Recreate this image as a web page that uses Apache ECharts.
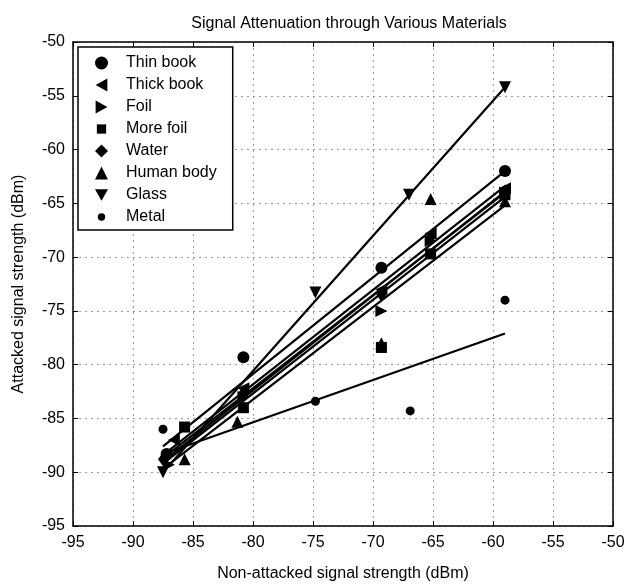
<!DOCTYPE html>
<html>
<head>
<meta charset="utf-8">
<script src="https://cdn.jsdelivr.net/npm/echarts@6/dist/echarts.min.js"></script>
<style>html,body{margin:0;padding:0;background:#fff}#c{width:632px;height:587px}</style>
</head>
<body>
<div id="c"></div>
<script>
// ---- data ----
const materials = ['Thin book', 'Thick book', 'Foil', 'More foil', 'Water', 'Human body', 'Glass', 'Metal'];

const thinBook  = [[-87.2,-88.3],[-80.8,-79.3],[-69.3,-71.0],[-59,-62.0]];
const thickBook = [[-86.6,-87.0],[-80.8,-82.2],[-69.3,-73.0],[-65.2,-67.8],[-59,-63.6]];
const foil      = [[-87.0,-89.3],[-80.8,-83.0],[-69.3,-75.0],[-65.2,-68.5],[-59,-64.0]];
const moreFoil  = [[-85.7,-85.8],[-80.8,-84.0],[-69.3,-78.4],[-65.2,-69.7],[-59,-64.2]];
const water     = [[-87.5,-88.8],[-80.8,-82.6],[-69.3,-73.5],[-65.2,-68.2],[-59,-63.9]];
const humanBody = [[-85.7,-88.8],[-81.3,-85.3],[-69.3,-78.0],[-65.2,-64.6],[-59,-64.8]];
const glass     = [[-87.5,-90.0],[-74.8,-73.3],[-67.0,-64.2],[-59,-54.2]];
const metal     = [[-87.5,-86.0],[-74.8,-83.4],[-66.9,-84.3],[-59,-74.0]];

// fitted lines (endpoints)
const thinBookFit  = [[-87.5,-87.6],[-59,-62.0]];
const thickBookFit = [[-87.5,-88.4],[-59,-63.4]];
const foilFit      = [[-87.5,-89.0],[-59,-63.9]];
const moreFoilFit  = [[-87.5,-89.2],[-59,-64.4]];
const waterFit     = [[-87.5,-88.7],[-59,-64.0]];
const humanBodyFit = [[-87.5,-89.7],[-59,-65.2]];
const glassFit     = [[-87.5,-90.0],[-59,-54.2]];
const metalFit     = [[-87.5,-88.3],[-59,-77.1]];

const xTicks = [-95,-90,-85,-80,-75,-70,-65,-60,-55,-50];
const yTicks = [-95,-90,-85,-80,-75,-70,-65,-60,-55,-50];

// ---- styling ----
const FONT = 'Liberation Sans';
const symbols = {
  'Thin book': 'circle',
  'Thick book': 'path://M0,5 L9,0 L9,10 Z',
  'Foil': 'path://M9,5 L0,0 L0,10 Z',
  'More foil': 'rect',
  'Water': 'diamond',
  'Human body': 'triangle',
  'Glass': 'path://M0,0 L10,0 L5,9 Z',
  'Metal': 'circle'
};
const legendIcons = Object.assign({}, symbols, {
  'More foil': 'path://M0,0 M14,14 M2,2 L12,2 L12,12 L2,12 Z',
  'Metal': 'path://M0,0 M14,14 M7,3 A4,4 0 1 1 7,11 A4,4 0 1 1 7,3 Z'
});
const sizes = {
  'Thin book': 12, 'Thick book': 12, 'Foil': 12, 'More foil': 11,
  'Water': [10,14], 'Human body': 12, 'Glass': 12, 'Metal': 9
};
const pts = [thinBook, thickBook, foil, moreFoil, water, humanBody, glass, metal];
const fits = [thinBookFit, thickBookFit, foilFit, moreFoilFit, waterFit, humanBodyFit, glassFit, metalFit];

const series = [];
materials.forEach((m, i) => {
  series.push({
    name: m + ' fit', type: 'line', data: fits[i], xAxisIndex: 0, yAxisIndex: 0,
    showSymbol: false, symbol: 'none', silent: true,
    lineStyle: { color: '#000', width: 2.2 }, z: 2
  });
});
materials.forEach((m, i) => {
  series.push({
    name: m, type: 'scatter', data: pts[i], xAxisIndex: 0, yAxisIndex: 0,
    symbol: symbols[m], symbolSize: sizes[m],
    itemStyle: { color: '#000', opacity: 1 }, z: 3
  });
});

const axisCommon = {
  min: -95, max: -50, interval: 5,
  axisLine: { show: true, onZero: false, lineStyle: { color: '#000', width: 1.5 } },
  axisTick: { show: true, inside: true, length: 5, lineStyle: { color: '#000', width: 1 } }
};

const chart = echarts.init(document.getElementById('c'), null, { renderer: 'canvas' });
chart.setOption({
  animation: false,
  backgroundColor: '#fff',
  title: {
    text: 'Signal Attenuation through Various Materials',
    left: 344, top: 11, textAlign: 'center',
    textStyle: { fontFamily: FONT, fontSize: 16, fontWeight: 'normal', color: '#000' }
  },
  grid: { left: 73, right: 19, top: 42, bottom: 54 },
  legend: {
    orient: 'vertical', left: 78, top: 47,
    data: materials.map(m => ({ name: m, icon: legendIcons[m] })),
    itemWidth: 13, itemHeight: 13, itemGap: 6,
    padding: [8, 16, 5, 17],
    borderColor: '#000', borderWidth: 1.5, backgroundColor: '#fff',
    textStyle: { fontFamily: FONT, fontSize: 16, color: '#000', padding: [0, 0, 0, 13] },
    itemStyle: { color: '#000', opacity: 1 },
    selectedMode: false
  },
  xAxis: [
    Object.assign({}, axisCommon, {
      type: 'value', position: 'bottom',
      name: 'Non-attacked signal strength (dBm)', nameLocation: 'middle', nameGap: 40,
      nameTextStyle: { fontFamily: FONT, fontSize: 16, color: '#000' },
      axisLabel: { fontFamily: FONT, fontSize: 16, color: '#000', margin: 9,
        formatter: v => xTicks.includes(v) ? String(v) : '' },
      splitLine: { show: true, lineStyle: { color: '#9a9a9a', type: [2, 4], width: 1 } }
    }),
    Object.assign({}, axisCommon, {
      type: 'value', position: 'top',
      axisLabel: { show: false }, splitLine: { show: false }
    })
  ],
  yAxis: [
    Object.assign({}, axisCommon, {
      type: 'value', position: 'left',
      name: 'Attacked signal strength (dBm)', nameLocation: 'middle', nameGap: 46,
      nameTextStyle: { fontFamily: FONT, fontSize: 16, color: '#000' },
      axisLabel: { fontFamily: FONT, fontSize: 16, color: '#000', margin: 8,
        formatter: v => yTicks.includes(v) ? String(v) : '' },
      splitLine: { show: true, lineStyle: { color: '#9a9a9a', type: [2, 4], width: 1 } }
    }),
    Object.assign({}, axisCommon, {
      type: 'value', position: 'right',
      axisLabel: { show: false }, splitLine: { show: false }
    })
  ],
  series: series
});
</script>
</body>
</html>
